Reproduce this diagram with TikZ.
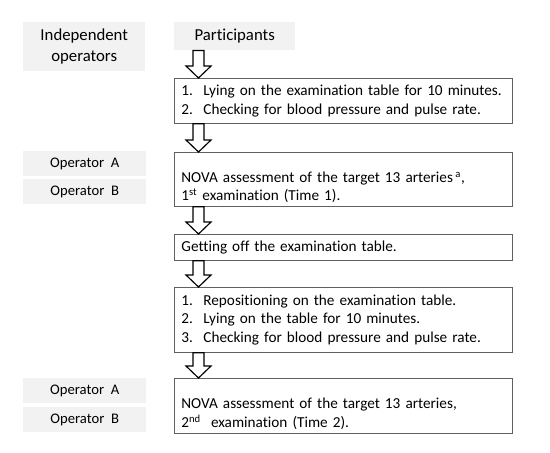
\documentclass[tikz,border=0pt]{standalone}
\usepackage{fontspec}
\setmainfont{Carlito}[Ligatures={NoCommon,NoContextual}]
\usetikzlibrary{calc}
\definecolor{headgray}{HTML}{F2F2F2}
\definecolor{framegray}{HTML}{606060}
\tikzset{
  head/.style={fill=headgray,anchor=north west,align=center,inner sep=0pt,font=\fontsize{14.3}{17.9}\selectfont},
  oper/.style={fill=headgray,anchor=north west,minimum width=3.69cm,minimum height=0.75cm,inner sep=0pt,font=\fontsize{12.5}{15}\selectfont},
  stepbox/.style={draw=framegray,line width=0.7pt,anchor=north west,minimum width=10.14cm,text width=9.72cm,inner xsep=0.21cm,inner ysep=0pt,align=left,font=\fontsize{13}{15.8}\selectfont},
  blockarrow/.style={draw=black,line width=1pt,fill=white,line join=miter,
    to path={let \p1=(\tikztostart), \p2=(\tikztotarget) in
      (\x1-0.165cm,\y1) -- (\x1-0.165cm,\y2+0.36cm) -- (\x1-0.375cm,\y2+0.36cm) -- (\x1,\y2)
      -- (\x1+0.375cm,\y2+0.36cm) -- (\x1+0.165cm,\y2+0.36cm) -- (\x1+0.165cm,\y1) -- cycle}}
}
\newcommand{\itemno}[1]{\makebox[0.66cm][l]{#1}}

\begin{document}
\begin{tikzpicture}
\useasboundingbox (0,0) rectangle (16.5,-13.59);

% column heads
\node[head,minimum width=3.66cm,minimum height=1.47cm] (ind) at (0.69,-0.66) {Independent\\operators};
\node[head,minimum width=3.63cm,minimum height=0.84cm] (part) at (5.22,-0.66) {Participants};

% steps
\node[stepbox,minimum height=1.35cm] (rest1) at (5.22,-2.34) {\itemno{1.}Lying on the examination table for 10 minutes.\\\itemno{2.}Checking for blood pressure and pulse rate.};
\node[stepbox,minimum height=1.62cm,text depth=0.15cm] (nova1) at (5.22,-4.56) {NOVA assessment of the target 13 arteries\,\textsuperscript{a},\\1\textsuperscript{st} examination (Time 1).};
\node[stepbox,minimum height=0.78cm] (off) at (5.22,-7.02) {Getting off the examination table.};
\node[stepbox,minimum height=1.95cm] (rest2) at (5.22,-8.61) {\itemno{1.}Repositioning on the examination table.\\\itemno{2.}Lying on the table for 10 minutes.\\\itemno{3.}Checking for blood pressure and pulse rate.};
\node[stepbox,minimum height=1.65cm,text depth=0.15cm] (nova2) at (5.22,-11.34) {NOVA assessment of the target 13 arteries,\\2\textsuperscript{nd}\ \ examination (Time 2).};

% operators
\node[oper] (opa1) at (0.69,-4.53) {Operator\ \ A};
\node[oper] (opb1) at (0.69,-5.37) {Operator\ \ B};
\node[oper] (opa2) at (0.69,-11.34) {Operator\ \ A};
\node[oper] (opb2) at (0.69,-12.21) {Operator\ \ B};

% arrows
\draw[blockarrow] ($(part.south west)+(0.735,0)$) to (rest1.north);
\draw[blockarrow] ($(rest1.south west)+(0.735,0)$) to (nova1.north);
\draw[blockarrow] ($(nova1.south west)+(0.735,0)$) to (off.north);
\draw[blockarrow] ($(off.south west)+(0.735,0)$) to (rest2.north);
\draw[blockarrow] ($(rest2.south west)+(0.735,0)$) to (nova2.north);

\end{tikzpicture}
\end{document}
